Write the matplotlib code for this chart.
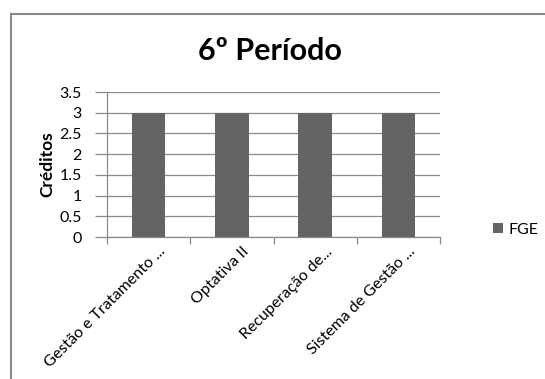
import matplotlib
matplotlib.use("Agg")
import matplotlib.pyplot as plt
from matplotlib.lines import Line2D
from matplotlib.transforms import ScaledTranslation
import numpy as np

categories = ["Gestão e Tratamento ...", "Optativa II", "Recuperação de...", "Sistema de Gestão ..."]
creditos = [3, 3, 3, 3]
series_name = "FGE"
yticks = [0, 0.5, 1, 1.5, 2, 2.5, 3, 3.5]
ytick_labels = ["0", "0.5", "1", "1.5", "2", "2.5", "3", "3.5"]

plt.rcParams['font.family'] = ['Lato', 'DejaVu Sans']

W, H = 545, 379
fig = plt.figure(figsize=(W / 100, H / 100), dpi=100)
fig.patch.set_facecolor("white")

# outer chart frame (left and top edges visible)
frame_col = "#8a8a8a"
fig.add_artist(Line2D([10.5 / W, 10.5 / W], [0, 1 - 14 / H], color=frame_col, lw=1.5, transform=fig.transFigure))
fig.add_artist(Line2D([10.5 / W, 1.0], [1 - 14 / H, 1 - 14 / H], color=frame_col, lw=1.5, transform=fig.transFigure))

ax = fig.add_axes([107 / W, 1 - 237 / H, (440 - 107) / W, (237 - 92) / H])
x = np.arange(len(categories))
ax.bar(x, creditos, width=0.4, color="#646464", label=series_name, zorder=3)

ax.set_ylim(0, 3.5)
ax.set_xlim(-0.5, len(categories) - 0.5)
ax.set_yticks(yticks)
ax.set_yticklabels(ytick_labels, fontsize=11.5)
ax.yaxis.grid(True, color="#8a8a8a", lw=0.9, zorder=0)
ax.set_axisbelow(True)

ax.set_xticks(x)
ax.set_xticklabels(categories, rotation=45, ha="right", va="center",
                   rotation_mode="anchor", fontsize=11.5)
ax.tick_params(axis="x", which="major", length=0, pad=9)
shift = ScaledTranslation(15 / 100, 0, fig.dpi_scale_trans)
for lbl in ax.get_xticklabels():
    lbl.set_transform(lbl.get_transform() + shift)
ax.set_xticks(np.arange(-0.5, len(categories), 1.0), minor=True)
ax.tick_params(axis="x", which="minor", length=5, color="#8a8a8a", width=0.9)
ax.tick_params(axis="y", length=9, color="#8a8a8a", width=0.9, pad=9)

for s in ["top", "right"]:
    ax.spines[s].set_visible(False)
for s in ["left", "bottom"]:
    ax.spines[s].set_color("#8a8a8a")
    ax.spines[s].set_linewidth(0.9)

ax.set_ylabel("Créditos", fontsize=12.5, fontweight="bold")
ax.yaxis.set_label_coords((55 - 107) / (440 - 107), 0.5)

fig.text(270 / W, 1 - 60 / H, "6º Período", fontsize=22, fontweight="bold", ha="center", va="baseline")

fig.legend(loc="center left", bbox_to_anchor=(485 / W, 1 - 230 / H), frameon=False,
           fontsize=11.5, handlelength=0.6, handleheight=0.6, handletextpad=0.35, borderpad=0)

fig.savefig("out.png", dpi=100)
